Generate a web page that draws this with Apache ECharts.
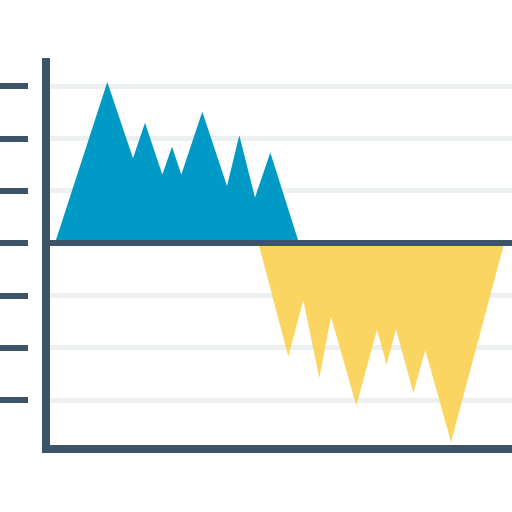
<!DOCTYPE html>
<html><head><meta charset="utf-8">
<script src="https://cdn.jsdelivr.net/npm/echarts@6/dist/echarts.min.js"></script>
<style>html,body{margin:0;padding:0;background:#fff}#c{width:512px;height:512px}</style>
</head><body><div id="c"></div>
<script>
// Positive (blue) series: [x, y]
const blueX = [0.9, 6.13, 8.7, 9.9, 11.63, 12.6, 13.53, 15.63, 18.1, 19.33, 20.9, 22.43, 25.3];
const blueY = [0, 3.08, 1.62, 2.30, 1.31, 1.84, 1.31, 2.51, 1.09, 2.06, 0.87, 1.73, 0];
// Negative (yellow) series
const yellowX = [21.23, 24.23, 25.73, 27.33, 28.5, 31.03, 33.1, 34.07, 35.0, 36.73, 37.93, 40.5, 45.83];
const yellowY = [0, -2.17, -1.10, -2.58, -1.41, -3.11, -1.66, -2.33, -1.65, -2.87, -2.05, -3.81, 0];
const tickValues = [-3, -2, -1, 0, 1, 2, 3];
const yMin = -3.939, yMax = 3.537, xMin = 0, xMax = 46.6;

const dark = '#3d5367';
const chart = echarts.init(document.getElementById('c'));
chart.setOption({
  animation: false,
  grid: {left: 46, right: 0, top: 58, bottom: 63},
  xAxis: {
    type: 'value', min: xMin, max: xMax,
    axisLine: {show: true, onZero: false, lineStyle: {color: dark, width: 8, cap: 'square'}},
    axisTick: {show: false}, axisLabel: {show: false}, splitLine: {show: false}
  },
  yAxis: [{
    type: 'value', min: yMin, max: yMax, position: 'left',
    axisLine: {show: true, lineStyle: {color: dark, width: 8, cap: 'butt'}},
    axisTick: {show: false}, axisLabel: {show: false}, splitLine: {show: false}
  }, {
    type: 'value', min: yMin, max: yMax, position: 'left', offset: 18,
    axisLine: {show: false},
    axisTick: {show: true, length: 28, customValues: tickValues, lineStyle: {color: dark, width: 6}},
    axisLabel: {show: false},
    splitLine: {show: true, lineStyle: {color: '#ecf0f1', width: 5}}
  }],
  series: [{
    type: 'line', z: 2,
    data: blueX.map((x, i) => [x, blueY[i]]),
    symbol: 'none', lineStyle: {width: 0}, areaStyle: {color: '#019ac6', opacity: 1}
  }, {
    type: 'line', z: 3,
    data: yellowX.map((x, i) => [x, yellowY[i]]),
    symbol: 'none', lineStyle: {width: 0}, areaStyle: {color: '#fbd562', opacity: 1},
    markLine: {
      silent: true, symbol: 'none', label: {show: false},
      lineStyle: {color: dark, width: 6, type: 'solid'},
      data: [{yAxis: 0}]
    }
  }]
});
</script></body></html>
